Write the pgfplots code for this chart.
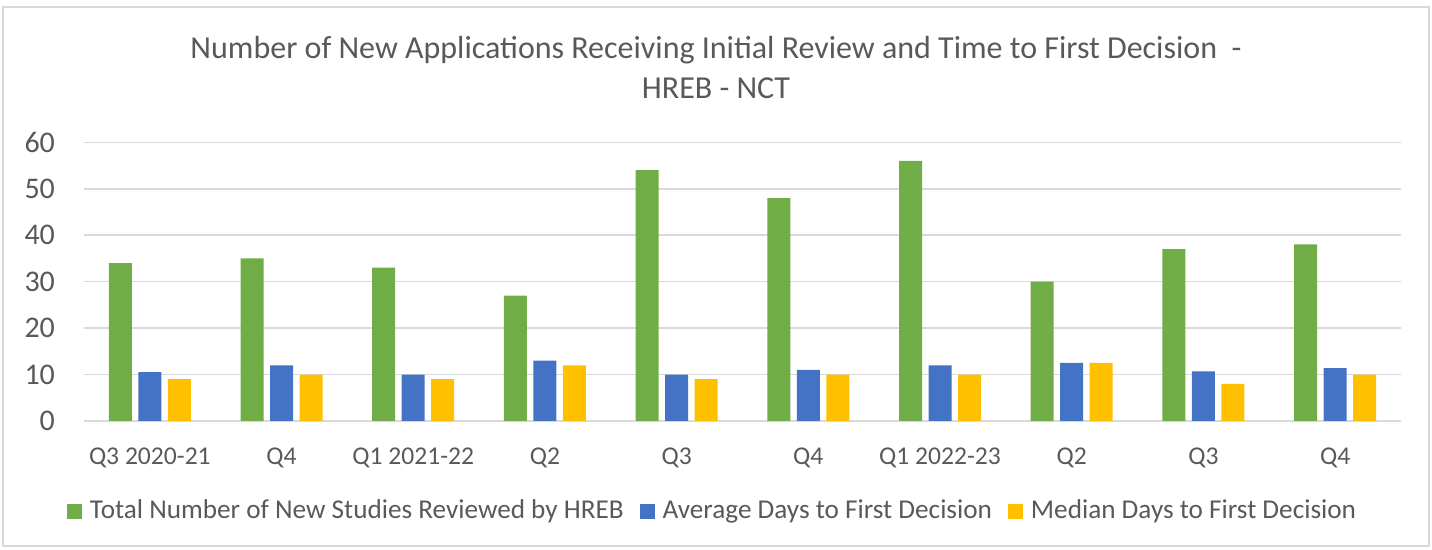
\documentclass[border=0pt]{standalone}
\usepackage{pgfplots}
\pgfplotsset{compat=1.18}
\usepackage{fontspec}
\setmainfont{Carlito}
\definecolor{cgreen}{HTML}{70AD47}
\definecolor{cblue}{HTML}{4472C4}
\definecolor{cyellow}{HTML}{FFC000}
\definecolor{cgrid}{HTML}{D9D9D9}
\definecolor{ctext}{HTML}{595959}
\begin{document}
\begin{tikzpicture}
\useasboundingbox (0,0) rectangle (716pt,275pt);
\draw[cgrid, line width=0.8pt] (1.5pt,2pt) rectangle (714.5pt,271.5pt);
\node[text=ctext, align=center, font=\fontsize{16}{20}\selectfont] at (358pt,241pt)
  {Number of New Applications Receiving Initial Review and Time to First Decision \ -\\HREB - NCT};
\begin{axis}[
  at={(42pt,64.5pt)}, anchor=south west,
  scale only axis, width=658.5pt, height=139.35pt,
  xmin=-0.5, xmax=9.5, ymin=0, ymax=60,
  ytick={0,10,...,60},
  xtick={0,...,9},
  xticklabels={Q3 2020-21,Q4,Q1 2021-22,Q2,Q3,Q4,Q1 2022-23,Q2,Q3,Q4},
  major tick length=0pt,
  axis line style={draw=none},
  ymajorgrids, grid style={cgrid, line width=0.8pt},
  /pgf/number format/assume math mode=true,
  tick label style={text=ctext},
  y tick label style={font=\fontsize{15}{18}\selectfont, xshift=-11pt},
  x tick label style={font=\fontsize{12.8}{16}\selectfont, yshift=-10pt},
  ybar, bar width=11.5pt,
  legend columns=3,
  legend style={draw=none, fill=none, at={(0.478,-0.323)}, anchor=center,
    font=\fontsize{13.6}{16}\selectfont, text=ctext,
    /tikz/every even column/.append style={column sep=6pt}},
  legend image code/.code={\fill (0pt,-3.75pt) rectangle (7.5pt,3.75pt); \path (9.5pt,0pt);},
]
\addplot[draw=none, fill=cgreen, bar shift=-14.75pt] coordinates {(0,34) (1,35) (2,33) (3,27) (4,54) (5,48) (6,56) (7,30) (8,37) (9,38)};
\addplot[draw=none, fill=cblue, bar shift=0pt] coordinates {(0,10.5) (1,12) (2,10) (3,13) (4,10) (5,11) (6,12) (7,12.5) (8,10.7) (9,11.4)};
\addplot[draw=none, fill=cyellow, bar shift=14.75pt] coordinates {(0,9) (1,10) (2,9) (3,12) (4,9) (5,10) (6,10) (7,12.5) (8,8) (9,10)};
\legend{Total Number of New Studies Reviewed by HREB, Average Days to First Decision, Median Days to First Decision}
\end{axis}
\end{tikzpicture}
\end{document}
